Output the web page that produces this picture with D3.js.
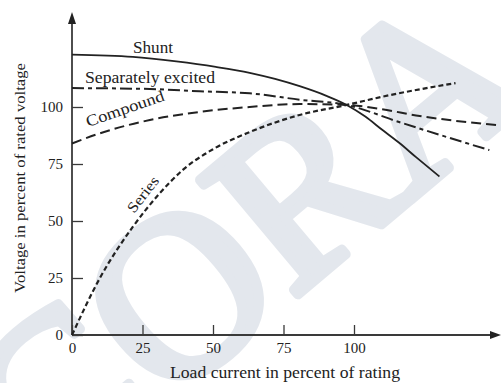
<!DOCTYPE html>
<html><head><meta charset="utf-8">
<script src="https://cdn.jsdelivr.net/npm/d3@7"></script>
<style>html,body{margin:0;padding:0;background:#fff;}svg{display:block;}</style>
</head><body>
<svg id="chart" width="501" height="383"></svg>
<script>
const xTicks = [0, 25, 50, 75, 100];
const yTicks = [0, 25, 50, 75, 100];
const shunt = [[0,123],[21.6,122],[37,120],[51,117.6],[63,115],[72,112.3],[81,109],[90,105],[97.4,100.9],[104,95.8],[110,90],[116,84.3],[122,78],[130.3,69.5]];
const separately = [[0,108.3],[27.6,107.9],[45.3,106.9],[63,106],[80.7,103.2],[97.4,100.9],[116,93.4],[134,86.4],[148,81.1]];
const compound = [[0,84],[10,88.5],[27.6,94.3],[45,97.8],[63,100],[80.7,101.3],[97.4,100.9],[110,99],[122,96.3],[151.6,92]];
const series = [[0,0],[9.9,25],[21.6,47.5],[31,62],[39.3,72.4],[50,81.5],[63,89],[80.7,96.5],[97.4,100.9],[110,104.5],[136,110.5]];
const seriesNames = ["Shunt","Separately excited","Compound","Series"];
const xLabel = "Load current in percent of rating";
const yLabel = "Voltage in percent of rated voltage";
const watermark = "CORA";

const svg = d3.select("#chart");
const font = "'Liberation Serif', 'Times New Roman', serif";
const ink = "#222";

// watermark
svg.append("text").attr("transform","translate(47,505) rotate(-40)")
  .attr("font-family",font).attr("font-size",230)
  .attr("fill","#e3e7ed").attr("stroke","#e3e7ed").attr("stroke-width",10).attr("stroke-linejoin","round").text(watermark);

const x = d3.scaleLinear().domain([0,100]).range([72,354]);
const y = d3.scaleLinear().domain([0,100]).range([335,107]);

// axes lines
svg.append("line").attr("x1",x(0)).attr("x2",494).attr("y1",y(0)).attr("y2",y(0)).attr("stroke","#3a3a3a").attr("stroke-width",1.8);
svg.append("line").attr("x1",x(0)).attr("x2",x(0)).attr("y1",y(0)).attr("y2",20).attr("stroke","#3a3a3a").attr("stroke-width",1.8);
svg.append("path").attr("d","M501,335 L490,331 L490,339 Z").attr("fill","#222");
svg.append("path").attr("d","M72,12 L68,24 L76,24 Z").attr("fill","#222");

// ticks
const xa = d3.axisBottom(x).tickValues(xTicks).tickSize(-10).tickPadding(15).tickFormat(d3.format("d"));
const gx = svg.append("g").attr("transform",`translate(0,${y(0)})`).call(xa);
gx.select(".domain").remove();
gx.selectAll("line").attr("stroke","#3a3a3a").attr("stroke-width",1.3);
gx.selectAll("text").attr("font-family",font).attr("font-size",15).attr("fill",ink).attr("dy","0.2em");

const ya = d3.axisLeft(y).tickValues(yTicks).tickSize(-11).tickPadding(9).tickFormat(d3.format("d"));
const gy = svg.append("g").attr("transform",`translate(${x(0)},0)`).call(ya);
gy.select(".domain").remove();
gy.selectAll("line").attr("stroke","#3a3a3a").attr("stroke-width",1.3);
gy.selectAll("text").attr("font-family",font).attr("font-size",15).attr("fill",ink);

const line = d3.line().x(d=>x(d[0])).y(d=>y(d[1])).curve(d3.curveMonotoneX);
svg.append("path").datum(shunt).attr("d",line).attr("fill","none").attr("stroke",ink).attr("stroke-width",1.8);
svg.append("path").datum(separately).attr("d",line).attr("fill","none").attr("stroke",ink).attr("stroke-width",2).attr("stroke-dasharray","12,4,4,4");
svg.append("path").datum(compound).attr("d",line).attr("fill","none").attr("stroke",ink).attr("stroke-width",2).attr("stroke-dasharray","10,5");
svg.append("path").datum(series).attr("d",line).attr("fill","none").attr("stroke",ink).attr("stroke-width",2.2).attr("stroke-dasharray","5,3");

// curve labels
const lab = (t,px,py,rot,len,fs)=>svg.append("text").attr("transform",`translate(${px},${py}) rotate(${rot})`)
  .attr("font-family",font).attr("font-size",fs).attr("fill",ink)
  .attr("textLength",len).attr("lengthAdjust","spacingAndGlyphs").text(t);
lab(seriesNames[0],133,53,0,40,16);
lab(seriesNames[1],85,83,0,130,16);
lab(seriesNames[2],88,127,-19,82,16);
lab(seriesNames[3],134,214,-52,42,15);

// axis titles
svg.append("text").attr("x",285).attr("y",378).attr("text-anchor","middle").attr("font-family",font).attr("font-size",16)
  .attr("textLength",230).attr("lengthAdjust","spacingAndGlyphs").attr("fill",ink).text(xLabel);
svg.append("text").attr("transform","translate(25,178) rotate(-90)").attr("text-anchor","middle").attr("font-family",font).attr("font-size",15)
  .attr("textLength",230).attr("lengthAdjust","spacingAndGlyphs").attr("fill",ink).text(yLabel);
</script>
</body></html>
